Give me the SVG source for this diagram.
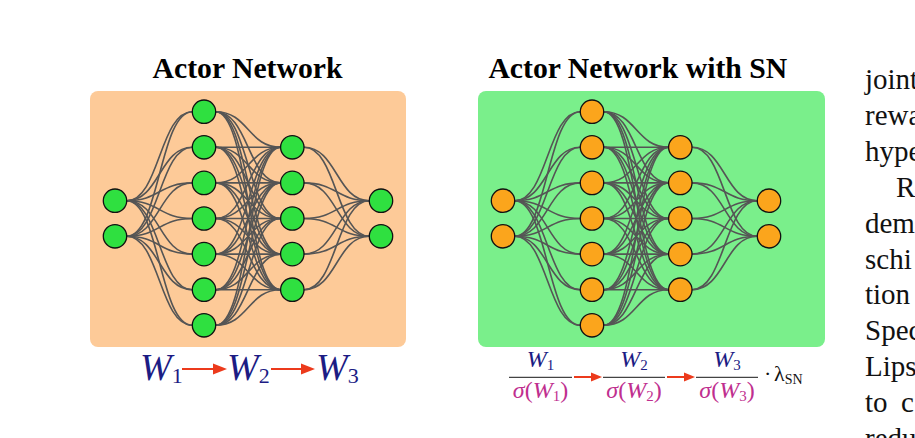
<svg xmlns="http://www.w3.org/2000/svg" width="915" height="438" viewBox="0 0 915 438">
<style>
.title{font-family:"Liberation Serif","Times New Roman",serif;font-weight:bold;font-size:29.7px;fill:#000;text-anchor:middle}
.e{fill:none;stroke:#555;stroke-width:1.6}
.ng{fill:#2fe040;stroke:#111;stroke-width:1.3}
.no{fill:#fba51c;stroke:#111;stroke-width:1.3}
.m{font-family:"Liberation Serif","Times New Roman",serif}
.blue{fill:#1c1c84}
.mag{fill:#bf2f8f}
.para{font-family:"Liberation Serif","Times New Roman",serif;font-size:29px;fill:#111}
.arr{stroke:#ec3a1c;stroke-width:2;fill:none}
.ah{fill:#ec3a1c}
</style>
<rect width="915" height="438" fill="#fff"/>
<g id="panel-left">
<rect x="90" y="91" width="316" height="256" rx="8" fill="#fdca98"/>
<text class="title" x="247.5" y="78.3">Actor Network</text>
</g>
<g id="panel-right">
<rect x="478" y="91" width="347" height="256" rx="8" fill="#7aef8b"/>
<text class="title" x="637.8" y="78.3">Actor Network with SN</text>
</g>
<g id="connectors">
<g id="connectors-left">
<path class="e" d="M126.7 200.7C159.5 200.7 159.5 111.7 192.3 111.7"/>
<path class="e" d="M126.7 200.7C159.5 200.7 159.5 147.3 192.3 147.3"/>
<path class="e" d="M126.7 200.7C159.5 200.7 159.5 182.9 192.3 182.9"/>
<path class="e" d="M126.7 200.7C159.5 200.7 159.5 218.5 192.3 218.5"/>
<path class="e" d="M126.7 200.7C159.5 200.7 159.5 254.1 192.3 254.1"/>
<path class="e" d="M126.7 200.7C159.5 200.7 159.5 289.7 192.3 289.7"/>
<path class="e" d="M126.7 200.7C159.5 200.7 159.5 325.3 192.3 325.3"/>
<path class="e" d="M126.7 236.3C159.5 236.3 159.5 111.7 192.3 111.7"/>
<path class="e" d="M126.7 236.3C159.5 236.3 159.5 147.3 192.3 147.3"/>
<path class="e" d="M126.7 236.3C159.5 236.3 159.5 182.9 192.3 182.9"/>
<path class="e" d="M126.7 236.3C159.5 236.3 159.5 218.5 192.3 218.5"/>
<path class="e" d="M126.7 236.3C159.5 236.3 159.5 254.1 192.3 254.1"/>
<path class="e" d="M126.7 236.3C159.5 236.3 159.5 289.7 192.3 289.7"/>
<path class="e" d="M126.7 236.3C159.5 236.3 159.5 325.3 192.3 325.3"/>
<path class="e" d="M215.7 111.7C248.2 111.7 248.2 147.3 280.6 147.3"/>
<path class="e" d="M215.7 111.7C248.2 111.7 248.2 182.9 280.6 182.9"/>
<path class="e" d="M215.7 111.7C248.2 111.7 248.2 218.5 280.6 218.5"/>
<path class="e" d="M215.7 111.7C248.2 111.7 248.2 254.1 280.6 254.1"/>
<path class="e" d="M215.7 111.7C248.2 111.7 248.2 289.7 280.6 289.7"/>
<path class="e" d="M215.7 147.3C248.2 147.3 248.2 147.3 280.6 147.3"/>
<path class="e" d="M215.7 147.3C248.2 147.3 248.2 182.9 280.6 182.9"/>
<path class="e" d="M215.7 147.3C248.2 147.3 248.2 218.5 280.6 218.5"/>
<path class="e" d="M215.7 147.3C248.2 147.3 248.2 254.1 280.6 254.1"/>
<path class="e" d="M215.7 147.3C248.2 147.3 248.2 289.7 280.6 289.7"/>
<path class="e" d="M215.7 182.9C248.2 182.9 248.2 147.3 280.6 147.3"/>
<path class="e" d="M215.7 182.9C248.2 182.9 248.2 182.9 280.6 182.9"/>
<path class="e" d="M215.7 182.9C248.2 182.9 248.2 218.5 280.6 218.5"/>
<path class="e" d="M215.7 182.9C248.2 182.9 248.2 254.1 280.6 254.1"/>
<path class="e" d="M215.7 182.9C248.2 182.9 248.2 289.7 280.6 289.7"/>
<path class="e" d="M215.7 218.5C248.2 218.5 248.2 147.3 280.6 147.3"/>
<path class="e" d="M215.7 218.5C248.2 218.5 248.2 182.9 280.6 182.9"/>
<path class="e" d="M215.7 218.5C248.2 218.5 248.2 218.5 280.6 218.5"/>
<path class="e" d="M215.7 218.5C248.2 218.5 248.2 254.1 280.6 254.1"/>
<path class="e" d="M215.7 218.5C248.2 218.5 248.2 289.7 280.6 289.7"/>
<path class="e" d="M215.7 254.1C248.2 254.1 248.2 147.3 280.6 147.3"/>
<path class="e" d="M215.7 254.1C248.2 254.1 248.2 182.9 280.6 182.9"/>
<path class="e" d="M215.7 254.1C248.2 254.1 248.2 218.5 280.6 218.5"/>
<path class="e" d="M215.7 254.1C248.2 254.1 248.2 254.1 280.6 254.1"/>
<path class="e" d="M215.7 254.1C248.2 254.1 248.2 289.7 280.6 289.7"/>
<path class="e" d="M215.7 289.7C248.2 289.7 248.2 147.3 280.6 147.3"/>
<path class="e" d="M215.7 289.7C248.2 289.7 248.2 182.9 280.6 182.9"/>
<path class="e" d="M215.7 289.7C248.2 289.7 248.2 218.5 280.6 218.5"/>
<path class="e" d="M215.7 289.7C248.2 289.7 248.2 254.1 280.6 254.1"/>
<path class="e" d="M215.7 289.7C248.2 289.7 248.2 289.7 280.6 289.7"/>
<path class="e" d="M215.7 325.3C248.2 325.3 248.2 147.3 280.6 147.3"/>
<path class="e" d="M215.7 325.3C248.2 325.3 248.2 182.9 280.6 182.9"/>
<path class="e" d="M215.7 325.3C248.2 325.3 248.2 218.5 280.6 218.5"/>
<path class="e" d="M215.7 325.3C248.2 325.3 248.2 254.1 280.6 254.1"/>
<path class="e" d="M215.7 325.3C248.2 325.3 248.2 289.7 280.6 289.7"/>
<path class="e" d="M304 147.3C336.7 147.3 336.7 200.7 369.3 200.7"/>
<path class="e" d="M304 147.3C336.7 147.3 336.7 236.3 369.3 236.3"/>
<path class="e" d="M304 182.9C336.7 182.9 336.7 200.7 369.3 200.7"/>
<path class="e" d="M304 182.9C336.7 182.9 336.7 236.3 369.3 236.3"/>
<path class="e" d="M304 218.5C336.7 218.5 336.7 200.7 369.3 200.7"/>
<path class="e" d="M304 218.5C336.7 218.5 336.7 236.3 369.3 236.3"/>
<path class="e" d="M304 254.1C336.7 254.1 336.7 200.7 369.3 200.7"/>
<path class="e" d="M304 254.1C336.7 254.1 336.7 236.3 369.3 236.3"/>
<path class="e" d="M304 289.7C336.7 289.7 336.7 200.7 369.3 200.7"/>
<path class="e" d="M304 289.7C336.7 289.7 336.7 236.3 369.3 236.3"/>
</g>
<g id="connectors-right">
<path class="e" d="M514.7 200.7C547.5 200.7 547.5 111.7 580.3 111.7"/>
<path class="e" d="M514.7 200.7C547.5 200.7 547.5 147.3 580.3 147.3"/>
<path class="e" d="M514.7 200.7C547.5 200.7 547.5 182.9 580.3 182.9"/>
<path class="e" d="M514.7 200.7C547.5 200.7 547.5 218.5 580.3 218.5"/>
<path class="e" d="M514.7 200.7C547.5 200.7 547.5 254.1 580.3 254.1"/>
<path class="e" d="M514.7 200.7C547.5 200.7 547.5 289.7 580.3 289.7"/>
<path class="e" d="M514.7 200.7C547.5 200.7 547.5 325.3 580.3 325.3"/>
<path class="e" d="M514.7 236.3C547.5 236.3 547.5 111.7 580.3 111.7"/>
<path class="e" d="M514.7 236.3C547.5 236.3 547.5 147.3 580.3 147.3"/>
<path class="e" d="M514.7 236.3C547.5 236.3 547.5 182.9 580.3 182.9"/>
<path class="e" d="M514.7 236.3C547.5 236.3 547.5 218.5 580.3 218.5"/>
<path class="e" d="M514.7 236.3C547.5 236.3 547.5 254.1 580.3 254.1"/>
<path class="e" d="M514.7 236.3C547.5 236.3 547.5 289.7 580.3 289.7"/>
<path class="e" d="M514.7 236.3C547.5 236.3 547.5 325.3 580.3 325.3"/>
<path class="e" d="M603.7 111.7C636.2 111.7 636.2 147.3 668.6 147.3"/>
<path class="e" d="M603.7 111.7C636.2 111.7 636.2 182.9 668.6 182.9"/>
<path class="e" d="M603.7 111.7C636.2 111.7 636.2 218.5 668.6 218.5"/>
<path class="e" d="M603.7 111.7C636.2 111.7 636.2 254.1 668.6 254.1"/>
<path class="e" d="M603.7 111.7C636.2 111.7 636.2 289.7 668.6 289.7"/>
<path class="e" d="M603.7 147.3C636.2 147.3 636.2 147.3 668.6 147.3"/>
<path class="e" d="M603.7 147.3C636.2 147.3 636.2 182.9 668.6 182.9"/>
<path class="e" d="M603.7 147.3C636.2 147.3 636.2 218.5 668.6 218.5"/>
<path class="e" d="M603.7 147.3C636.2 147.3 636.2 254.1 668.6 254.1"/>
<path class="e" d="M603.7 147.3C636.2 147.3 636.2 289.7 668.6 289.7"/>
<path class="e" d="M603.7 182.9C636.2 182.9 636.2 147.3 668.6 147.3"/>
<path class="e" d="M603.7 182.9C636.2 182.9 636.2 182.9 668.6 182.9"/>
<path class="e" d="M603.7 182.9C636.2 182.9 636.2 218.5 668.6 218.5"/>
<path class="e" d="M603.7 182.9C636.2 182.9 636.2 254.1 668.6 254.1"/>
<path class="e" d="M603.7 182.9C636.2 182.9 636.2 289.7 668.6 289.7"/>
<path class="e" d="M603.7 218.5C636.2 218.5 636.2 147.3 668.6 147.3"/>
<path class="e" d="M603.7 218.5C636.2 218.5 636.2 182.9 668.6 182.9"/>
<path class="e" d="M603.7 218.5C636.2 218.5 636.2 218.5 668.6 218.5"/>
<path class="e" d="M603.7 218.5C636.2 218.5 636.2 254.1 668.6 254.1"/>
<path class="e" d="M603.7 218.5C636.2 218.5 636.2 289.7 668.6 289.7"/>
<path class="e" d="M603.7 254.1C636.2 254.1 636.2 147.3 668.6 147.3"/>
<path class="e" d="M603.7 254.1C636.2 254.1 636.2 182.9 668.6 182.9"/>
<path class="e" d="M603.7 254.1C636.2 254.1 636.2 218.5 668.6 218.5"/>
<path class="e" d="M603.7 254.1C636.2 254.1 636.2 254.1 668.6 254.1"/>
<path class="e" d="M603.7 254.1C636.2 254.1 636.2 289.7 668.6 289.7"/>
<path class="e" d="M603.7 289.7C636.2 289.7 636.2 147.3 668.6 147.3"/>
<path class="e" d="M603.7 289.7C636.2 289.7 636.2 182.9 668.6 182.9"/>
<path class="e" d="M603.7 289.7C636.2 289.7 636.2 218.5 668.6 218.5"/>
<path class="e" d="M603.7 289.7C636.2 289.7 636.2 254.1 668.6 254.1"/>
<path class="e" d="M603.7 289.7C636.2 289.7 636.2 289.7 668.6 289.7"/>
<path class="e" d="M603.7 325.3C636.2 325.3 636.2 147.3 668.6 147.3"/>
<path class="e" d="M603.7 325.3C636.2 325.3 636.2 182.9 668.6 182.9"/>
<path class="e" d="M603.7 325.3C636.2 325.3 636.2 218.5 668.6 218.5"/>
<path class="e" d="M603.7 325.3C636.2 325.3 636.2 254.1 668.6 254.1"/>
<path class="e" d="M603.7 325.3C636.2 325.3 636.2 289.7 668.6 289.7"/>
<path class="e" d="M692 147.3C724.7 147.3 724.7 200.7 757.3 200.7"/>
<path class="e" d="M692 147.3C724.7 147.3 724.7 236.3 757.3 236.3"/>
<path class="e" d="M692 182.9C724.7 182.9 724.7 200.7 757.3 200.7"/>
<path class="e" d="M692 182.9C724.7 182.9 724.7 236.3 757.3 236.3"/>
<path class="e" d="M692 218.5C724.7 218.5 724.7 200.7 757.3 200.7"/>
<path class="e" d="M692 218.5C724.7 218.5 724.7 236.3 757.3 236.3"/>
<path class="e" d="M692 254.1C724.7 254.1 724.7 200.7 757.3 200.7"/>
<path class="e" d="M692 254.1C724.7 254.1 724.7 236.3 757.3 236.3"/>
<path class="e" d="M692 289.7C724.7 289.7 724.7 200.7 757.3 200.7"/>
<path class="e" d="M692 289.7C724.7 289.7 724.7 236.3 757.3 236.3"/>
</g>
</g>
<g id="nodes-left">
<g id="a-in-1"><circle class="ng" cx="115" cy="200.7" r="11.7"/></g>
<g id="a-in-2"><circle class="ng" cx="115" cy="236.3" r="11.7"/></g>
<g id="a-h1-1"><circle class="ng" cx="204" cy="111.7" r="11.7"/></g>
<g id="a-h1-2"><circle class="ng" cx="204" cy="147.3" r="11.7"/></g>
<g id="a-h1-3"><circle class="ng" cx="204" cy="182.9" r="11.7"/></g>
<g id="a-h1-4"><circle class="ng" cx="204" cy="218.5" r="11.7"/></g>
<g id="a-h1-5"><circle class="ng" cx="204" cy="254.1" r="11.7"/></g>
<g id="a-h1-6"><circle class="ng" cx="204" cy="289.7" r="11.7"/></g>
<g id="a-h1-7"><circle class="ng" cx="204" cy="325.3" r="11.7"/></g>
<g id="a-h2-1"><circle class="ng" cx="292.3" cy="147.3" r="11.7"/></g>
<g id="a-h2-2"><circle class="ng" cx="292.3" cy="182.9" r="11.7"/></g>
<g id="a-h2-3"><circle class="ng" cx="292.3" cy="218.5" r="11.7"/></g>
<g id="a-h2-4"><circle class="ng" cx="292.3" cy="254.1" r="11.7"/></g>
<g id="a-h2-5"><circle class="ng" cx="292.3" cy="289.7" r="11.7"/></g>
<g id="a-out-1"><circle class="ng" cx="381" cy="200.7" r="11.7"/></g>
<g id="a-out-2"><circle class="ng" cx="381" cy="236.3" r="11.7"/></g>
</g>
<g id="nodes-right">
<g id="s-in-1"><circle class="no" cx="503" cy="200.7" r="11.7"/></g>
<g id="s-in-2"><circle class="no" cx="503" cy="236.3" r="11.7"/></g>
<g id="s-h1-1"><circle class="no" cx="592" cy="111.7" r="11.7"/></g>
<g id="s-h1-2"><circle class="no" cx="592" cy="147.3" r="11.7"/></g>
<g id="s-h1-3"><circle class="no" cx="592" cy="182.9" r="11.7"/></g>
<g id="s-h1-4"><circle class="no" cx="592" cy="218.5" r="11.7"/></g>
<g id="s-h1-5"><circle class="no" cx="592" cy="254.1" r="11.7"/></g>
<g id="s-h1-6"><circle class="no" cx="592" cy="289.7" r="11.7"/></g>
<g id="s-h1-7"><circle class="no" cx="592" cy="325.3" r="11.7"/></g>
<g id="s-h2-1"><circle class="no" cx="680.3" cy="147.3" r="11.7"/></g>
<g id="s-h2-2"><circle class="no" cx="680.3" cy="182.9" r="11.7"/></g>
<g id="s-h2-3"><circle class="no" cx="680.3" cy="218.5" r="11.7"/></g>
<g id="s-h2-4"><circle class="no" cx="680.3" cy="254.1" r="11.7"/></g>
<g id="s-h2-5"><circle class="no" cx="680.3" cy="289.7" r="11.7"/></g>
<g id="s-out-1"><circle class="no" cx="769" cy="200.7" r="11.7"/></g>
<g id="s-out-2"><circle class="no" cx="769" cy="236.3" r="11.7"/></g>
</g>
<g id="formula-left">
<text class="m blue" x="140" y="380" font-size="38"><tspan font-style="italic">W</tspan><tspan font-size="22" dy="3">1</tspan></text>
<line class="arr" x1="182" y1="369" x2="215" y2="369"/>
<path class="ah" d="M227 369L213 363.5L213 374.5Z"/>
<text class="m blue" x="227" y="380" font-size="38"><tspan font-style="italic">W</tspan><tspan font-size="22" dy="3">2</tspan></text>
<line class="arr" x1="271" y1="369" x2="303" y2="369"/>
<path class="ah" d="M315 369L301 363.5L301 374.5Z"/>
<text class="m blue" x="316" y="380" font-size="38"><tspan font-style="italic">W</tspan><tspan font-size="22" dy="3">3</tspan></text>
</g>
<g id="formula-right">
<text class="m blue" x="540.5" y="367" font-size="24" text-anchor="middle"><tspan font-style="italic">W</tspan><tspan font-size="15" dy="3">1</tspan></text>
<line x1="509" y1="377.3" x2="572" y2="377.3" stroke="#444" stroke-width="1.3"/>
<text class="m mag" x="540.5" y="398" font-size="24" text-anchor="middle"><tspan font-style="italic">σ</tspan>(<tspan font-style="italic">W</tspan><tspan font-size="15" dy="3">1</tspan><tspan dy="-3">)</tspan></text>
<line class="arr" x1="574" y1="377" x2="593" y2="377"/>
<path class="ah" d="M602 377L591 372.5L591 381.5Z"/>
<text class="m blue" x="634" y="367" font-size="24" text-anchor="middle"><tspan font-style="italic">W</tspan><tspan font-size="15" dy="3">2</tspan></text>
<line x1="603" y1="377.3" x2="665" y2="377.3" stroke="#444" stroke-width="1.3"/>
<text class="m mag" x="634" y="398" font-size="24" text-anchor="middle"><tspan font-style="italic">σ</tspan>(<tspan font-style="italic">W</tspan><tspan font-size="15" dy="3">2</tspan><tspan dy="-3">)</tspan></text>
<line class="arr" x1="667" y1="377" x2="686" y2="377"/>
<path class="ah" d="M695 377L684 372.5L684 381.5Z"/>
<text class="m blue" x="727" y="367" font-size="24" text-anchor="middle"><tspan font-style="italic">W</tspan><tspan font-size="15" dy="3">3</tspan></text>
<line x1="696" y1="377.3" x2="758" y2="377.3" stroke="#444" stroke-width="1.3"/>
<text class="m mag" x="727" y="398" font-size="24" text-anchor="middle"><tspan font-style="italic">σ</tspan>(<tspan font-style="italic">W</tspan><tspan font-size="15" dy="3">3</tspan><tspan dy="-3">)</tspan></text>
<text class="m" x="764" y="381" font-size="22" fill="#111">·</text>
<text class="m" x="774" y="381" font-size="22" fill="#111">λ<tspan font-size="14" dy="3">SN</tspan></text>
</g>
<g id="paragraph">
<text class="para" x="865" y="89">joint</text>
<text class="para" x="865" y="125">rewa</text>
<text class="para" x="865" y="161">hype</text>
<text class="para" x="896" y="197">R</text>
<text class="para" x="865" y="233">dem</text>
<text class="para" x="865" y="269">schi</text>
<text class="para" x="865" y="304">tion</text>
<text class="para" x="865" y="340">Spec</text>
<text class="para" x="865" y="376">Lips</text>
<text class="para" x="865" y="412">to<tspan x="901">c</tspan></text>
<text class="para" x="865" y="448">redu</text>
</g>
</svg>
